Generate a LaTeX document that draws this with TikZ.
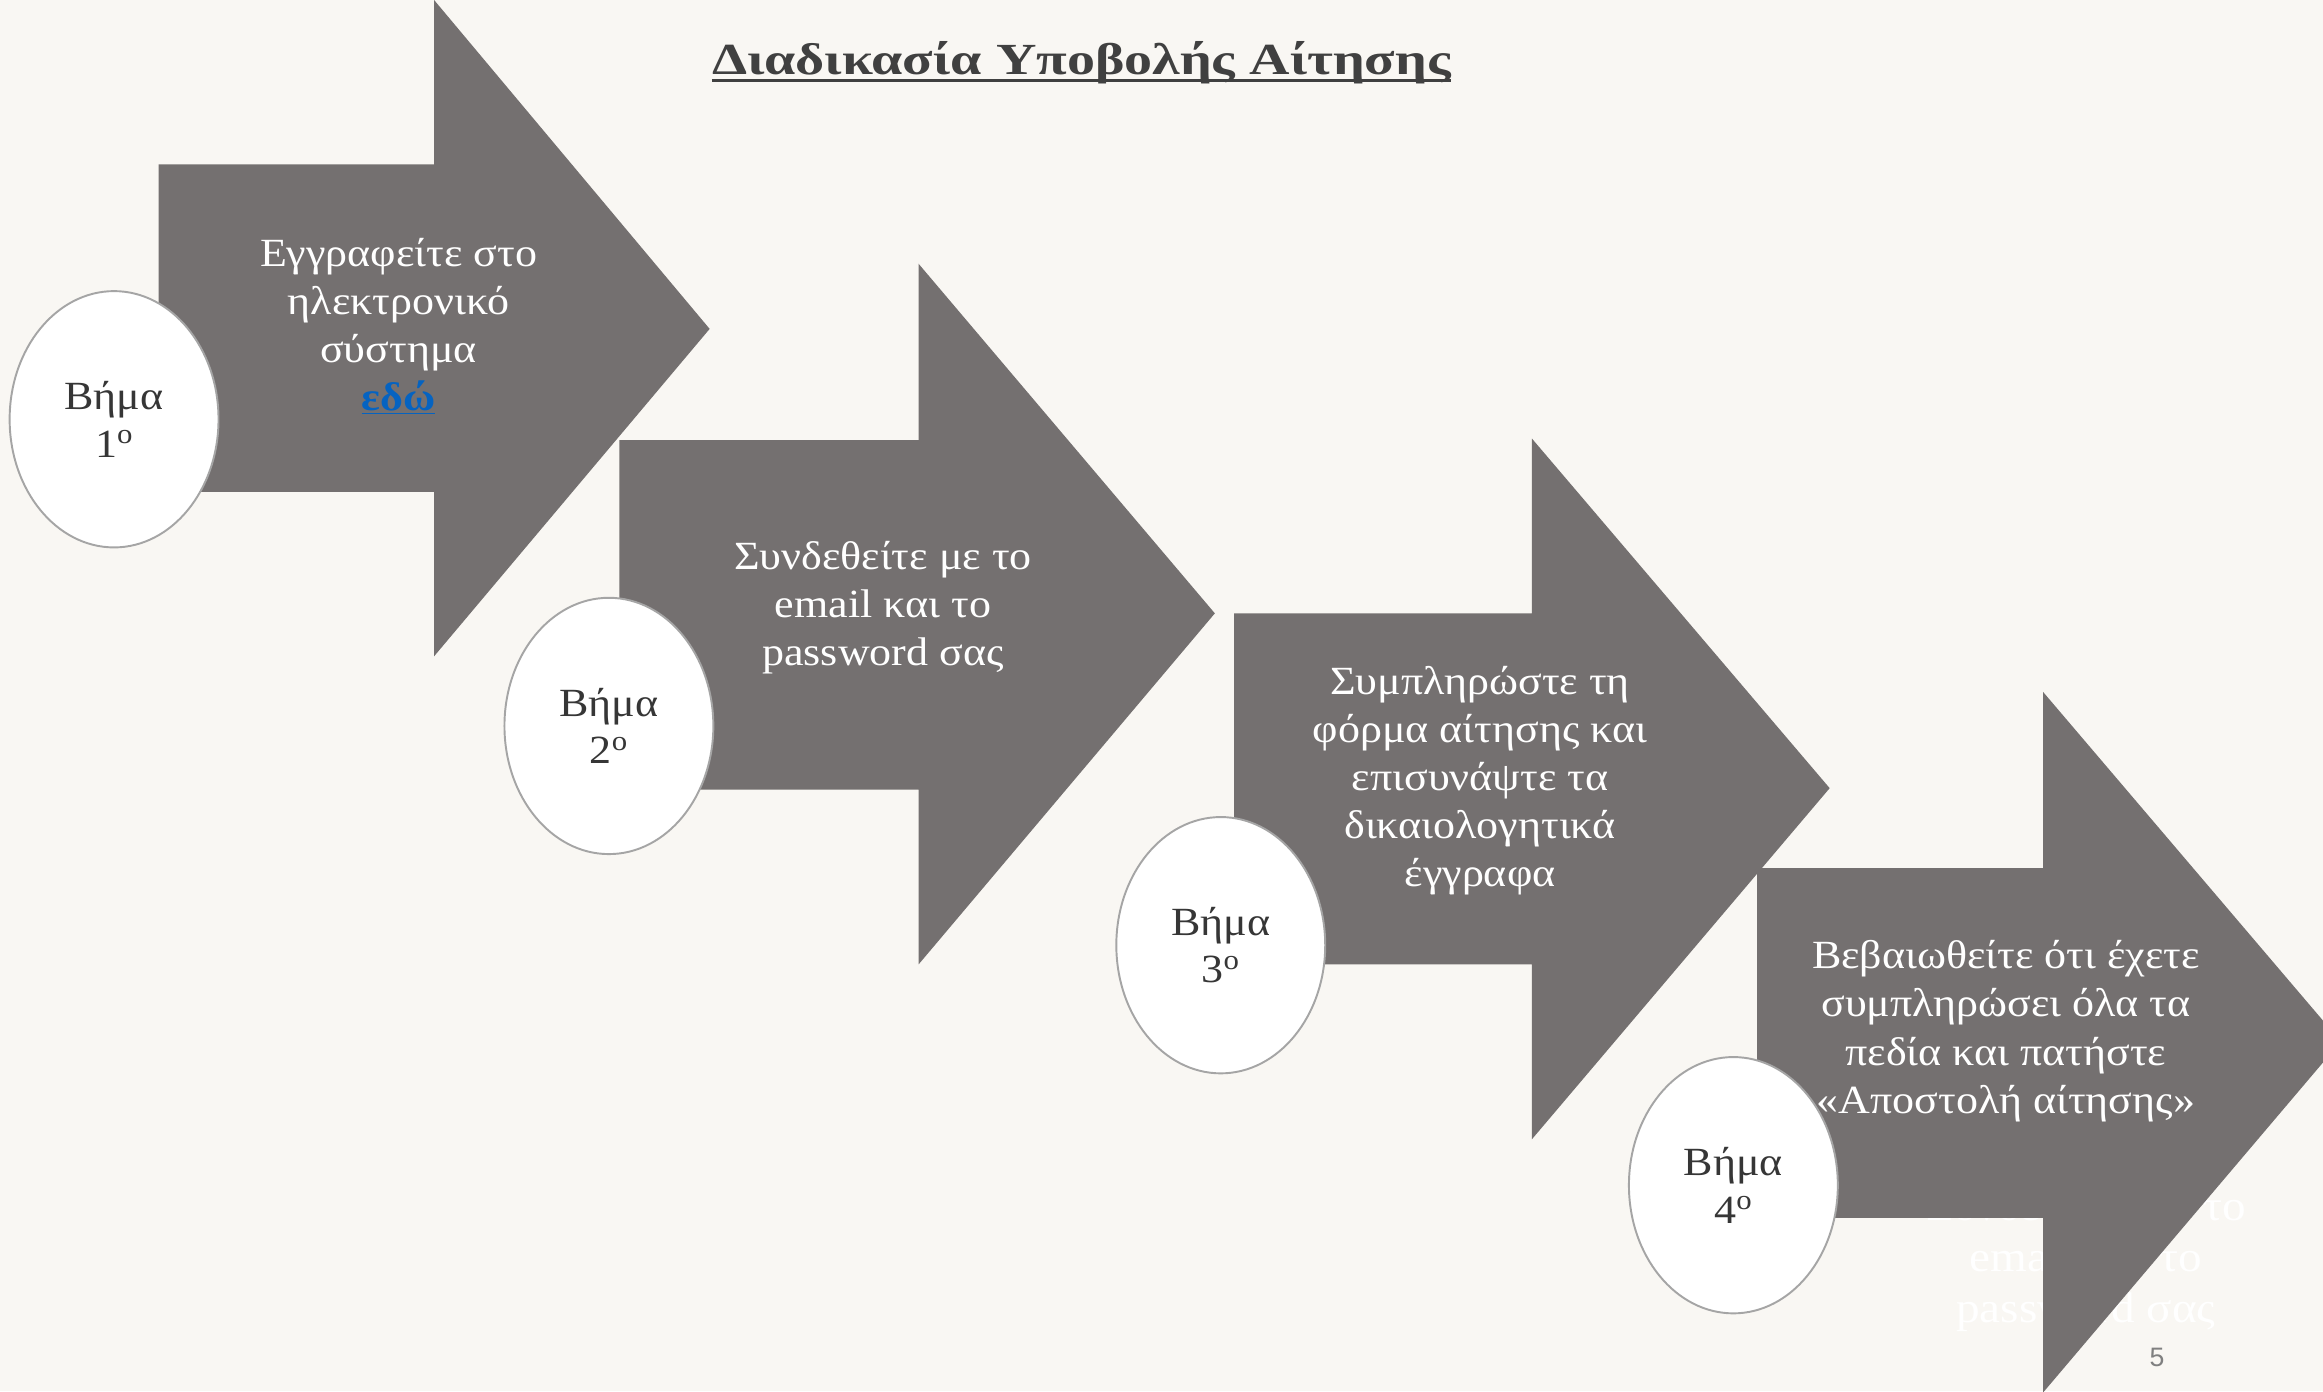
\documentclass[tikz,border=0pt]{standalone}
\usepackage{fontspec}
\setmainfont{Liberation Serif}[FakeStretch=1.1]
\newfontfamily\titlefont{Liberation Serif}[FakeStretch=1.26]
\newfontfamily\pagefont{Liberation Sans}
\usetikzlibrary{shapes.geometric}
\definecolor{bgcream}{HTML}{F9F7F3}
\definecolor{arrowgray}{HTML}{747070}
\definecolor{ringgray}{HTML}{A5A5A5}
\definecolor{darktext}{HTML}{363636}
\definecolor{titletext}{HTML}{404040}
\definecolor{linkblue}{HTML}{0563C1}
\definecolor{pagegray}{HTML}{808080}
\tikzset{
  bigarrow/.style={fill=arrowgray, draw=none},
  stepoval/.style={ellipse, fill=white, draw=ringgray, line width=1.3pt,
    minimum width=141pt, minimum height=173pt, inner sep=0pt,
    align=center, text=darktext, font=\fontsize{27}{32}\selectfont},
  arrowtext/.style={align=center, text=white, font=\fontsize{27}{32.5}\selectfont, inner sep=0pt},
}
\begin{document}
\begin{tikzpicture}[x=1pt,y=-1pt]
\fill[bgcream] (0,0) rectangle (1568,939);
\useasboundingbox (0,0) rectangle (1568,939);
\clip (0,0) rectangle (1568,939);

% title
\node[font=\titlefont\fontsize{30}{35}\selectfont\bfseries, text=titletext, inner sep=0pt] (title) at (730,42)
  {Διαδικασία Υποβολής Αίτησης};
\draw[titletext, line width=1.7pt] ([yshift=-4.5pt]title.base west) -- ([yshift=-4.5pt]title.base east);

% arrow 1
\fill[bigarrow] (107,111) -- (293,111) -- (293,0) -- (479,222) -- (293,443) -- (293,332) -- (107,332) -- cycle;
\node[arrowtext] (t1) at (269,220) {Εγγραφείτε στο\\ηλεκτρονικό\\σύστημα\\{\color{linkblue}\bfseries\underline{εδώ}}};

% arrow 2
\fill[bigarrow] (418,297) -- (620,297) -- (620,178) -- (820,414) -- (620,651) -- (620,533) -- (418,533) -- cycle;
\node[arrowtext] (t2) at (596,410) {Συνδεθείτε με το\\email και το\\password σας};

% arrow 3
\fill[bigarrow] (833,414) -- (1034,414) -- (1034,296) -- (1235,532) -- (1034,769) -- (1034,651) -- (833,651) -- cycle;
\node[arrowtext] (t3) at (999,527) {Συμπληρώστε τη\\φόρμα αίτησης και\\επισυνάψτε τα\\δικαιολογητικά\\έγγραφα};

% faint leftover text (behind arrow 4)
\node[align=center, text=white, font=\fontsize{29}{34.5}\selectfont, inner sep=0pt] (t5) at (1408,851)
  {Συνδεθείτε με το\\email και το\\password σας};

% arrow 4
\fill[bigarrow] (1186,586) -- (1379,586) -- (1379,467) -- (1580,703) -- (1379,940) -- (1379,822) -- (1186,822) -- cycle;
\node[arrowtext] (t4) at (1354,696) {Βεβαιωθείτε ότι έχετε\\συμπληρώσει όλα τα\\πεδία και πατήστε\\«Αποστολή αίτησης»};

% step ovals
\node[stepoval] (s1) at (77,283) {Βήμα\\1\textsuperscript{ο}};
\node[stepoval] (s2) at (411,490) {Βήμα\\2\textsuperscript{ο}};
\node[stepoval] (s3) at (824,638) {Βήμα\\3\textsuperscript{ο}};
\node[stepoval] (s4) at (1170,800) {Βήμα\\4\textsuperscript{ο}};

% page number
\node[font=\pagefont\fontsize{18}{20}\selectfont, text=pagegray] (pg) at (1456,916) {5};
\end{tikzpicture}
\end{document}
